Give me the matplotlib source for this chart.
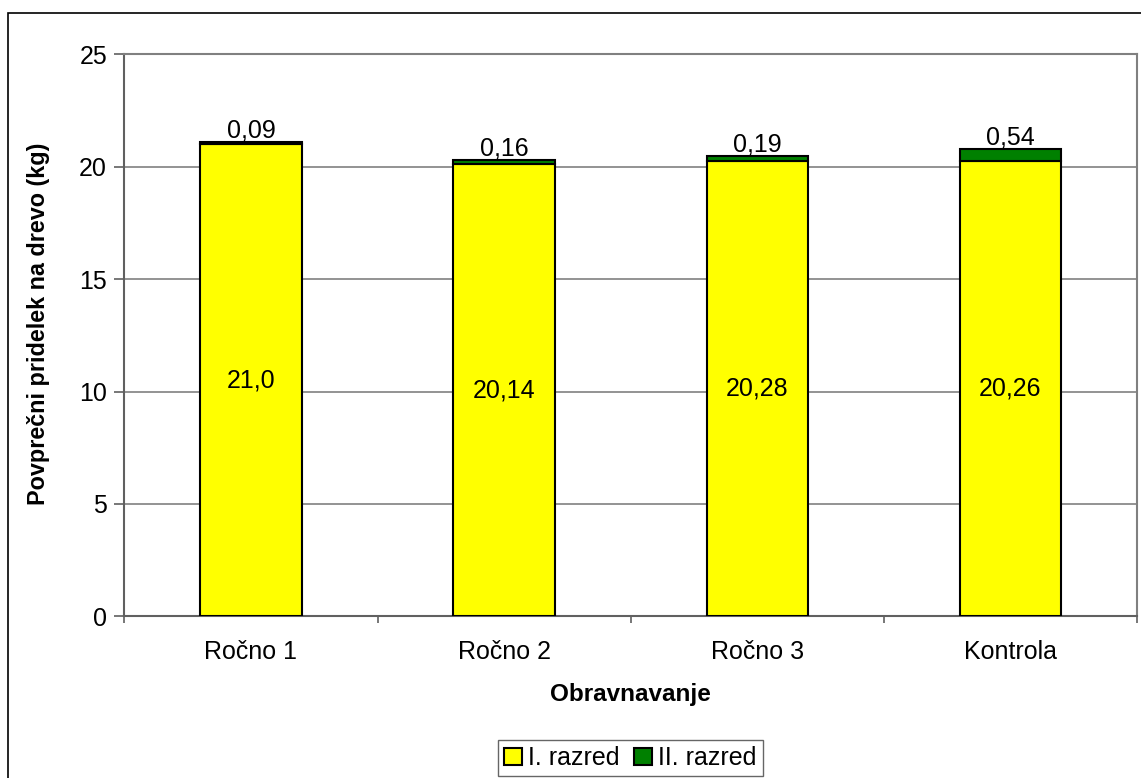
import matplotlib
matplotlib.use("Agg")
import matplotlib.pyplot as plt
from matplotlib.patches import Rectangle, Patch

plt.rcParams['font.family'] = ['Liberation Sans', 'DejaVu Sans']

categories = ["Ročno 1", "Ročno 2", "Ročno 3", "Kontrola"]
class_1 = [21.0, 20.14, 20.28, 20.26]
class_2 = [0.09, 0.16, 0.19, 0.54]
class_1_labels = ["21,0", "20,14", "20,28", "20,26"]
class_2_labels = ["0,09", "0,16", "0,19", "0,54"]
series_names = ["I. razred", "II. razred"]
y_ticks = [0, 5, 10, 15, 20, 25]

YELLOW = "#FFFF00"
GREEN = "#008000"
GRID = "#808080"
FS = 18

fig = plt.figure(figsize=(11.41, 7.78), dpi=100)
ax = fig.add_axes([0.109, 0.2078, 0.8875, 0.7222])

x = list(range(len(categories)))
ax.bar(x, class_1, width=0.4, color=YELLOW, edgecolor="black", linewidth=1.5, zorder=3)
ax.bar(x, class_2, width=0.4, bottom=class_1, color=GREEN, edgecolor="black",
       linewidth=1.5, zorder=3)

for xi, v1, v2, l1, l2 in zip(x, class_1, class_2, class_1_labels, class_2_labels):
    ax.text(xi, v1 / 2, l1, ha="center", va="center", fontsize=FS, zorder=4)
    ax.annotate(l2, (xi, v1 + v2), xytext=(0, 8.5), textcoords="offset points",
                ha="center", va="center", fontsize=FS, zorder=4)

ax.set_xlim(-0.5, len(categories) - 0.5)
ax.set_ylim(0, 25)
ax.set_yticks(y_ticks)
ax.set_yticklabels([str(t) for t in y_ticks])
ax.set_xticks([i - 0.5 for i in range(len(categories) + 1)])
ax.set_xticklabels([])
ax.set_xticks(x, minor=True)
ax.set_xticklabels(categories, minor=True)

ax.yaxis.grid(True, color=GRID, linewidth=1.2, zorder=0)
ax.set_axisbelow(True)
for side in ["top", "right", "left", "bottom"]:
    ax.spines[side].set_color(GRID)
    ax.spines[side].set_linewidth(1.5)
ax.spines["left"].set_color("#606060")
ax.spines["bottom"].set_color("#606060")

ax.tick_params(axis="y", which="major", length=7, width=1.2, color="#606060",
               labelsize=FS, pad=5.5)
ax.tick_params(axis="x", which="major", length=5, width=1.2, color="#606060")
ax.tick_params(axis="x", which="minor", length=0, labelsize=FS, pad=17)

fig.text(0.034, 0.5835, "Povprečni pridelek na drevo (kg)", rotation=90,
         ha="center", va="center", fontsize=16.8, fontweight="bold")
fig.text(0.5525, 1 - 694 / 778, "Obravnavanje", ha="center", va="center",
         fontsize=17.5, fontweight="bold")

handles = [Patch(facecolor=YELLOW, edgecolor="black", linewidth=1.5),
           Patch(facecolor=GREEN, edgecolor="black", linewidth=1.5)]
leg = fig.legend(handles, series_names, loc="center", bbox_to_anchor=(0.5525, 1 - 758 / 778),
                 ncol=2, fontsize=FS, frameon=True, fancybox=False, shadow=False,
                 handlelength=0.7, handleheight=0.7, handletextpad=0.25,
                 columnspacing=0.6, borderpad=0.25, borderaxespad=0)
leg.get_frame().set_edgecolor("#404040")
leg.get_frame().set_linewidth(1.0)

fig.add_artist(Rectangle((8 / 1141, -0.1), 1.2, 1.1 - 13 / 778,
                         transform=fig.transFigure, fill=False,
                         edgecolor="black", linewidth=1.2))

fig.savefig("out.png", dpi=100, facecolor="white")
